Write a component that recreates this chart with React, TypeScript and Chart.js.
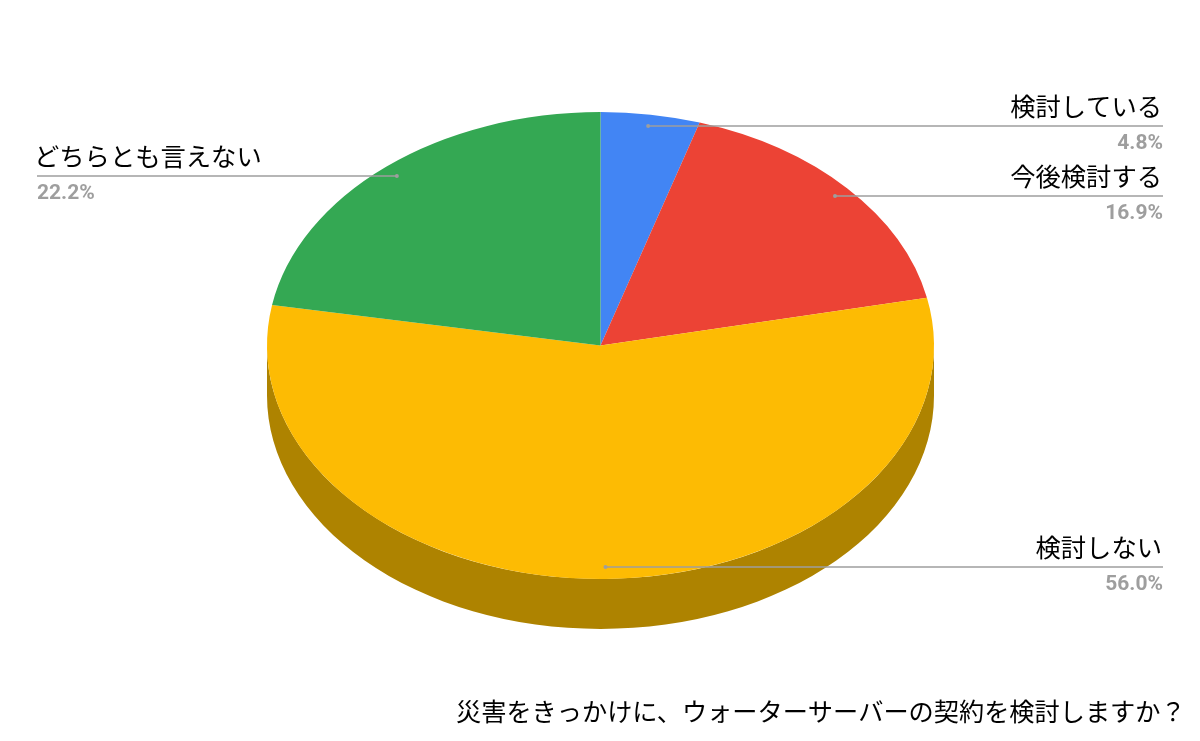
import { useEffect, useRef } from 'react';
import { Chart, registerables } from 'chart.js';

Chart.register(...registerables);

const CATEGORIES = ['検討している', '今後検討する', '検討しない', 'どちらとも言えない'];
const VALUES = [4.8, 16.9, 56.0, 22.2];
const PERCENT_LABELS = ['4.8%', '16.9%', '56.0%', '22.2%'];
const SLICE_COLORS = ['#4285f4', '#ec4335', '#fdbb03', '#34a853'];
const SIDE_COLORS = ['#2e5daa', '#a52e25', '#ae8300', '#247539'];
const TITLE = '災害をきっかけに、ウォーターサーバーの契約を検討しますか？';

const JP_FONT = '"Noto Sans CJK JP", "Noto Sans", sans-serif';
const TILT = 0.7;
const CENTER_Y = 345.5;
const DEPTH = 50;

// flattens the pie into an ellipse and draws the rim under it
const tiltPlugin = {
  id: 'tilt',
  beforeDatasetsDraw(chart: Chart) {
    const { ctx } = chart;
    const arcs = chart.getDatasetMeta(0).data as any[];
    const { x: cx, y: cy, outerRadius: r } = arcs[0].getProps(['x', 'y', 'outerRadius'], true);
    const ry = r * TILT;

    arcs.forEach((arc, i) => {
      const { startAngle, endAngle } = arc.getProps(['startAngle', 'endAngle'], true);
      const from = Math.max(startAngle, 0);
      const to = Math.min(endAngle, Math.PI);
      if (to <= from) return;
      ctx.save();
      ctx.fillStyle = SIDE_COLORS[i];
      ctx.beginPath();
      ctx.ellipse(cx, CENTER_Y, r, ry, 0, from, to);
      ctx.ellipse(cx, CENTER_Y + DEPTH, r, ry, 0, to, from, true);
      ctx.closePath();
      ctx.fill();
      ctx.restore();
    });

    ctx.save();
    ctx.translate(cx, CENTER_Y);
    ctx.scale(1, TILT);
    ctx.translate(-cx, -cy);
  },
  afterDatasetsDraw(chart: Chart) {
    chart.ctx.restore();
  },
};

// leader lines, slice names and percentages, plus the caption at the bottom
const labelPlugin = {
  id: 'leaderLabels',
  afterDraw(chart: Chart) {
    const { ctx } = chart;
    const arcs = chart.getDatasetMeta(0).data as any[];

    arcs.forEach((arc, i) => {
      const { x: cx, outerRadius: r, startAngle, endAngle } = arc.getProps(
        ['x', 'outerRadius', 'startAngle', 'endAngle'],
        true,
      );
      const mid = (startAngle + endAngle) / 2;
      const dotX = cx + Math.cos(mid) * r * 0.95;
      const dotY = Math.round(CENTER_Y + Math.sin(mid) * r * TILT * 0.95);
      const onRight = Math.cos(mid) > -0.1;
      const edgeX = onRight ? 1163 : 37;

      ctx.save();
      ctx.strokeStyle = '#9e9e9e';
      ctx.fillStyle = '#9e9e9e';
      ctx.lineWidth = 1.4;
      ctx.beginPath();
      ctx.moveTo(dotX, dotY);
      ctx.lineTo(edgeX, dotY);
      ctx.stroke();
      ctx.beginPath();
      ctx.arc(dotX, dotY, 2, 0, Math.PI * 2);
      ctx.fill();

      ctx.textAlign = onRight ? 'right' : 'left';
      ctx.textBaseline = 'alphabetic';
      ctx.fillStyle = '#000000';
      ctx.font = `25.3px ${JP_FONT}`;
      ctx.fillText(CATEGORIES[i], onRight ? edgeX - 1 : edgeX - 3, dotY - 10);
      ctx.fillStyle = '#9e9e9e';
      ctx.font = 'bold 21px Roboto, sans-serif';
      ctx.fillText(PERCENT_LABELS[i], edgeX, dotY + 23);
      ctx.restore();
    });

    ctx.save();
    ctx.textAlign = 'left';
    ctx.fillStyle = '#000000';
    ctx.font = `25.2px ${JP_FONT}`;
    ctx.fillText(TITLE, 456, 721);
    ctx.restore();
  },
};

export default function App() {
  const canvasRef = useRef<HTMLCanvasElement>(null);

  useEffect(() => {
    if (!canvasRef.current) return;

    const chart = new Chart(canvasRef.current, {
      type: 'pie',
      data: {
        labels: CATEGORIES,
        datasets: [
          {
            data: VALUES,
            backgroundColor: SLICE_COLORS,
            borderWidth: 0,
            clip: false,
          },
        ],
      },
      options: {
        responsive: false,
        animation: false,
        events: [],
        layout: { padding: { left: 267, right: 266, top: 37, bottom: 37 } },
        plugins: {
          legend: { display: false },
          tooltip: { enabled: false },
        },
      },
      plugins: [tiltPlugin, labelPlugin],
    });

    return () => chart.destroy();
  }, []);

  return (
    <div style={{ position: 'absolute', left: 0, top: 0, width: 1200, height: 741, background: '#fff' }}>
      <canvas ref={canvasRef} width={1200} height={741} style={{ display: 'block' }} />
    </div>
  );
}
